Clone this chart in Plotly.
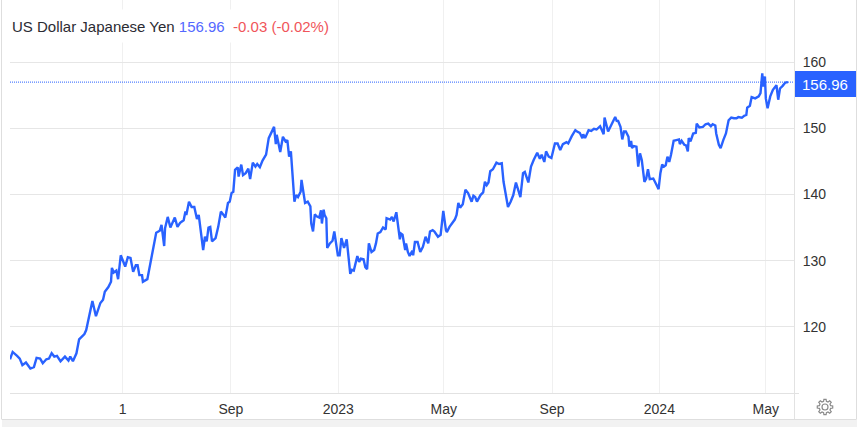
import math
import pandas as pd
import numpy as np
import plotly.graph_objects as go

START = "2021-12-24"
days = [0,3,8,11,14,18,23,27,30,34,37,41,44,47,50,53,57,62,66,68,71,75,78,84,86,89,91,93,97,102,105,107,111,114,115,117,120,122,125,127,130,133,136,139,142,144,146,149,150,155,159,
161,165,169,171,174,175,178,181,186,189,192,196,198,199,202,205,208,211,213,215,218,220,222,224,226,228,232,235,238,241,243,246,248,250,252,254,257,258,261,263,266,269,271,274,277,279,282,285,289,292,294,298,300,301,305,308,311,313,315,317,321,323,325,328,329,
333,336,339,340,342,344,346,349,351,352,354,355,357,358,361,364,366,370,372,374,377,380,382,384,386,388,392,394,396,399,401,403,405,408,411,413,415,418,421,424,425,429,431,433,436,438,440,441,443,446,447,449,451,454,455,457,460,463,466,469,472,474,477,479,483,486,489,492,493,496,
502,504,506,508,511,514,517,521,523,525,527,531,534,536,538,540,542,545,549,552,555,557,559,562,565,568,571,573,576,579,581,585,588,591,595,598,600,603,605,608,611,615,618,621,624,628,630,634,637,638,640,643,646,647,649,653,656,659,662,
666,670,671,675,679,683,685,686,689,691,693,695,698,699,701,702,704,707,709,711,713,716,718,720,722,726,729,732,734,736,738,740,742,744,746,749,752,755,756,758,761,763,765,766,768,771,774,775,778,
782,785,788,791,793,796,797,800,802,805,808,811,814,817,820,822,826,829,831,832,835,837,841,845,847,849,850,852,853,855,858,861,864,865,867,869,872,875,878]

usdjpy = [115.1,116.2,115.6,115.2,114.2,114.6,113.7,113.9,115.3,115.2,114.5,115.1,115.2,116.0,115.5,115.6,114.8,115.5,114.9,115.5,114.8,116.0,118.1,118.9,119.5,121.5,122.3,123.9,121.6,123.6,124.1,125.3,126.0,126.8,128.9,128.2,128.5,127.2,130.8,130.0,129.1,130.5,130.4,128.3,129.3,129.3,127.8,127.8,126.8,127.2,130.0,
131.3,134.2,134.5,135.4,132.2,134.9,136.6,135.0,136.5,135.1,135.7,136.1,137.4,136.9,138.9,138.1,138.1,136.3,136.9,134.6,131.6,133.6,132.9,135.0,135.1,132.9,133.4,135.1,137.4,136.9,136.5,138.7,138.9,140.2,140.4,143.7,144.1,142.7,144.5,142.9,143.2,143.9,142.3,144.8,144.2,144.6,144.1,145.1,146.0,148.5,149.0,150.2,147.6,149.0,146.4,148.7,148.0,148.2,145.7,146.5,138.9,139.9,139.6,140.4,142.2,
138.7,138.9,138.2,135.6,134.4,137.0,136.7,136.5,137.6,135.6,137.7,136.9,136.4,131.9,132.6,133.0,134.4,130.8,130.8,133.4,131.9,133.2,130.1,128.0,128.6,128.5,130.7,129.8,130.3,130.2,129.0,128.7,132.6,131.3,131.6,132.6,134.1,134.3,135.0,134.7,136.4,136.2,136.6,135.9,137.3,135.6,133.2,134.1,133.9,131.6,132.6,131.3,130.7,131.5,130.8,132.8,132.8,131.3,132.1,133.6,132.6,134.4,134.6,134.4,133.6,133.9,137.5,134.6,134.3,135.1,
136.2,136.9,138.7,138.0,138.5,140.7,140.2,138.9,139.8,139.6,138.9,139.9,140.3,141.9,141.4,141.8,143.5,143.8,144.8,144.6,144.7,141.9,140.2,138.1,138.9,139.9,141.8,140.9,139.6,143.2,143.4,141.8,144.2,145.2,146.3,145.4,146.0,144.9,146.5,145.7,145.5,147.7,147.7,146.7,147.6,147.9,147.7,148.8,149.5,149.7,149.5,149.3,148.5,149.1,148.5,149.7,149.6,149.9,149.8,
150.3,149.1,151.6,149.5,150.7,151.7,151.0,151.2,150.2,148.3,149.5,149.5,148.7,147.2,148.1,147.0,147.3,147.2,144.2,146.2,145.2,141.9,142.4,143.8,142.3,142.4,141.6,140.8,143.2,144.5,144.2,144.4,145.7,144.9,146.0,148.1,148.2,148.3,147.6,148.1,147.5,147.4,146.5,148.5,148.0,149.2,149.3,150.7,150.1,
150.2,150.6,150.7,150.3,150.6,150.4,149.2,147.5,147.0,148.2,149.2,151.2,151.6,151.5,151.5,151.7,151.6,151.9,152.0,153.1,153.4,154.7,154.5,154.8,155.3,158.3,156.3,157.8,154.5,153.0,154.8,155.8,156.3,156.5,154.3,156.0,156.4,156.9,156.96]

tick_dates = ["2022-05-01","2022-09-01","2023-01-01","2023-05-01","2023-09-01","2024-01-01","2024-05-01"]
tick_labels = ["1","Sep","2023","May","Sep","2024","May"]
y_ticks = [110,120,130,140,150,160]
y_labels = ["","120","130","140","150","160"]
LAST = 156.96

W, H = 862, 427
L, R, B = 10, 794, 393
BLUE = "#2962ff"
FONT = "Liberation Sans, Arial, sans-serif"

def px(x): return (x - L) / (R - L)
def py(y): return (B - y) / B

dates = pd.Timestamp(START) + pd.to_timedelta(np.array(days) * 1.007, unit="D")

fig = go.Figure(go.Scatter(x=dates, y=usdjpy, mode="lines", hoverinfo="skip",
                           line=dict(color=BLUE, width=2.4)))

def rect(x0, y0, x1, y1, **kw):
    return dict(type="rect", xref="paper", yref="paper", x0=px(x0), x1=px(x1), y0=py(y0), y1=py(y1), **kw)

def seg(x0, y0, x1, y1, color):
    return dict(type="line", xref="paper", yref="paper", x0=px(x0), x1=px(x1), y0=py(y0), y1=py(y1),
                line=dict(color=color, width=1))

# settings gear outline
cx, cy = 825.0, 407.0
gear = []
teeth = 8
for i in range(teeth):
    a = 2 * math.pi * i / teeth
    w = math.pi / teeth
    for da, r in ((-0.62*w, 5.8), (-0.36*w, 7.8), (0.36*w, 7.8), (0.62*w, 5.8)):
        gear.append((cx + r*math.cos(a+da), cy + r*math.sin(a+da)))
gear_path = "M " + " L ".join(f"{px(x):.5f},{py(y):.5f}" for x, y in gear) + " Z"

shapes = [
    rect(2, 419, 857, 427, fillcolor="#f2f2f2", line=dict(width=0)),
    seg(1.5, 0, 1.5, 419, "#dedede"),
    seg(856.5, 0, 856.5, 419, "#dedede"),
    seg(1.5, 419.5, 856.5, 419.5, "#dedede"),
    seg(794.5, 0, 794.5, 419, "#e2e2e2"),
    seg(10, 393.5, 799, 393.5, "#e2e2e2"),
    dict(type="line", xref="paper", yref="y", x0=0, x1=1, y0=LAST, y1=LAST,
         line=dict(color=BLUE, width=1, dash="1px,1px")),
    rect(795, 71, 856, 97, fillcolor=BLUE, line=dict(width=0)),
    dict(type="path", xref="paper", yref="paper", path=gear_path, line=dict(color="#8a8a8a", width=1.2)),
    dict(type="circle", xref="paper", yref="paper", x0=px(cx-3), x1=px(cx+3), y0=py(cy+3), y1=py(cy-3),
         line=dict(color="#8a8a8a", width=1.2)),
]

title = ("<span style='color:#2b2b33'>US Dollar Japanese Yen</span> "
         "<span style='color:#5468ff'>156.96</span>&#160; "
         "<span style='color:#f0555a'>-0.03 (-0.02%)</span>")

annotations = [
    dict(xref="paper", yref="paper", x=px(10), y=py(26), xanchor="left", yanchor="middle", text=title,
         showarrow=False, bgcolor="#ffffff", font=dict(family=FONT, size=15), width=322, height=30, align="left"),
    dict(xref="paper", yref="paper", x=px(825), y=py(84.5), xanchor="center", yanchor="middle",
         text="156.96", showarrow=False, font=dict(family=FONT, size=15, color="#ffffff")),
]

fig.update_layout(
    width=W, height=H, autosize=False,
    margin=dict(l=L, r=W-R, t=0, b=H-B, pad=0),
    paper_bgcolor="#ffffff", plot_bgcolor="#ffffff",
    showlegend=False, shapes=shapes, annotations=annotations,
    font=dict(family=FONT, size=14, color="#333333"),
    xaxis=dict(type="date", range=[START, "2024-06-02"], tickmode="array", tickvals=tick_dates,
               ticktext=tick_labels, showgrid=True, gridcolor="#f0f0f0", gridwidth=1,
               showline=False, zeroline=False, ticks="outside", ticklen=3, tickcolor="rgba(0,0,0,0)",
               tickangle=0, tickfont=dict(family=FONT, size=14, color="#333333")),
    yaxis=dict(side="right", range=[110, 110 + 393/6.62], tickmode="array", tickvals=y_ticks,
               ticktext=y_labels, showgrid=True, gridcolor="#e6e6e6", gridwidth=1,
               showline=False, zeroline=False, ticks="outside", ticklen=5, tickcolor="rgba(0,0,0,0)",
               tickfont=dict(family=FONT, size=14, color="#333333")),
)

fig.write_html("out.html", config=dict(displayModeBar=False),
               post_script="document.body.style.margin='0';document.body.style.overflow='hidden';")
